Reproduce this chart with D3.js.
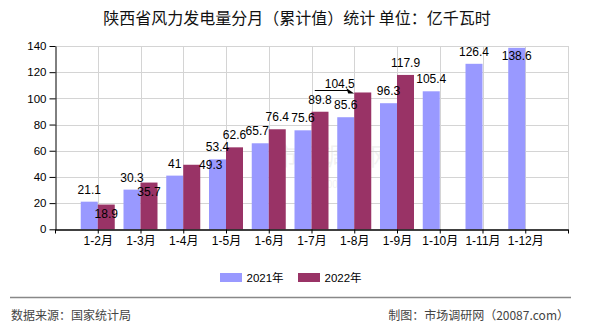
<!DOCTYPE html>
<html><head><meta charset="utf-8">
<script src="https://cdn.jsdelivr.net/npm/d3@7"></script>
<style>
html,body{margin:0;padding:0;background:#fff;}
svg{display:block;}
text{font-family:"Liberation Sans","Noto Sans CJK SC",sans-serif;}
</style></head>
<body>
<svg id="c" width="590" height="330"></svg>
<script>
// ---- data ----
const categories = ["1-2月","1-3月","1-4月","1-5月","1-6月","1-7月","1-8月","1-9月","1-10月","1-11月","1-12月"];
const series2021 = [21.1,30.3,41,53.4,65.7,75.6,85.6,96.3,105.4,126.4,138.6];
const series2022 = [18.9,35.7,49.3,62.6,76.4,89.8,104.5,117.9,null,null,null];
const seriesNames = ["2021年","2022年"];
const yTicks = [0,20,40,60,80,100,120,140];
const title = "陕西省风力发电量分月（累计值）统计 单位：亿千瓦时";
const sourceText = "数据来源：国家统计局";
const creditText = "制图：市场调研网（20087.com）";

// ---- layout / style ----
const colors = ["#9999ff","#993366"];
const plot = {left:55, right:568, top:46, bottom:229.3};
const barW = 17;
// label nudges (layout only), keyed "series-category": [dx, dy]
const nudges = {"1-0":[0,21.5],"1-1":[0,21.5],"1-2":[19,12.5],"0-4":[-3,0],"1-6":[-23,3.5],"0-10":[0,20.5]};

const svg = d3.select("#c");
const xl = d3.scaleLinear().domain([0, categories.length+1]).range([plot.left, plot.right]);
const cx = i => xl(i+1);
const y = d3.scaleLinear().domain([0,140]).range([plot.bottom, plot.top]);

// title
svg.append("text").attr("x",297).attr("y",23.5).attr("text-anchor","middle")
  .style("font-family","'Noto Sans CJK SC',sans-serif").style("font-size","16px").attr("fill","#111")
  .text(title);

// watermark
svg.append("text").attr("x",334).attr("y",165).attr("text-anchor","middle")
  .style("font-family","'Noto Sans CJK SC',sans-serif").style("font-size","24px")
  .attr("fill","#000").attr("opacity",0.05).text("市场调研网");
svg.append("text").attr("x",334).attr("y",188).attr("text-anchor","middle")
  .style("font-size","10px").attr("fill","#000").attr("opacity",0.05).text("www.20087.com");

// grid
const g = svg.append("g");
g.selectAll("line.h").data(yTicks.filter(d=>d>0)).join("line")
  .attr("x1",plot.left).attr("x2",plot.right).attr("y1",d=>Math.round(y(d))+0.5).attr("y2",d=>Math.round(y(d))+0.5)
  .attr("stroke","#d4d4d4").attr("stroke-width",1);
g.selectAll("line.v").data(d3.range(1, categories.length+2)).join("line")
  .attr("x1",d=>Math.round(xl(d))+0.5).attr("x2",d=>Math.round(xl(d))+0.5)
  .attr("y1",plot.top).attr("y2",plot.bottom)
  .attr("stroke","#d4d4d4").attr("stroke-width",1);

// bars
const all = [series2021, series2022];
all.forEach((s,si)=>{
  svg.append("g").selectAll("rect").data(s.map((v,i)=>({v,i})).filter(d=>d.v!=null)).join("rect")
    .attr("x",d=> si===0 ? cx(d.i)-barW : cx(d.i))
    .attr("y",d=>y(d.v)).attr("width",barW).attr("height",d=>plot.bottom-y(d.v))
    .attr("fill",colors[si]);
});

// axes
const yAxis = svg.append("g").attr("transform",`translate(${plot.left+0.5},0)`)
  .call(d3.axisLeft(y).tickValues(yTicks).tickSize(6).tickSizeOuter(0).tickPadding(3));
yAxis.select(".domain").attr("stroke","#000");
yAxis.selectAll("text").style("font-size","11.5px").attr("fill","#000");
const xAxis = svg.append("g").attr("transform",`translate(0,${Math.round(plot.bottom)+0.5})`)
  .call(d3.axisBottom(xl).tickValues(d3.range(0,categories.length+2)).tickSize(4).tickSizeOuter(0).tickPadding(3)
    .tickFormat(d => (d>=1 && d<=categories.length) ? categories[d-1] : ""));
xAxis.select(".domain").attr("stroke","#000").attr("stroke-width",1.3);
xAxis.selectAll("text").style("font-size","12px").attr("fill","#000");

// value labels
all.forEach((s,si)=>{
  s.forEach((v,i)=>{
    if(v==null) return;
    const n = nudges[si+"-"+i] || [0,0];
    const x0 = si===0 ? cx(i)-barW/2 : cx(i)+barW/2;
    svg.append("text").attr("x",x0+n[0]).attr("y",y(v)-8+n[1]).attr("text-anchor","middle")
      .style("font-size","12px").attr("fill","#000").text(v);
  });
});

// leader arrow for 104.5
{
  const i=6, v=series2022[6];
  const tipX = cx(i), tipY = y(v)+1;
  const sx = cx(i)-39.5, sy = y(v)-2;
  svg.append("line").attr("x1",sx).attr("y1",sy).attr("x2",tipX-6).attr("y2",sy)
    .attr("stroke","#000").attr("stroke-width",1.2);
  svg.append("path").attr("d",`M${tipX},${tipY} L${tipX-8},${sy-2.5} L${tipX-6},${sy+3} Z`).attr("fill","#000");
}

// legend
const lg = svg.append("g");
[[220,246.5],[298,324.5]].forEach((p,k)=>{
  lg.append("rect").attr("x",p[0]).attr("y",273).attr("width",22).attr("height",9).attr("fill",colors[k]);
  lg.append("text").attr("x",p[1]).attr("y",281.5).style("font-size","11.5px").attr("fill","#000").text(seriesNames[k]);
});

// footer
svg.append("line").attr("x1",10).attr("x2",571).attr("y1",297.5).attr("y2",297.5).attr("stroke","#888").attr("stroke-width",1.5);
svg.append("text").attr("x",11).attr("y",320).style("font-family","'Noto Sans CJK SC',sans-serif").style("font-size","12px").attr("fill","#444").text(sourceText);
svg.append("text").attr("x",569).attr("y",320).attr("text-anchor","end").style("font-family","'Noto Sans CJK SC',sans-serif").style("font-size","12px").attr("fill","#444").text(creditText);
</script>
</body></html>
